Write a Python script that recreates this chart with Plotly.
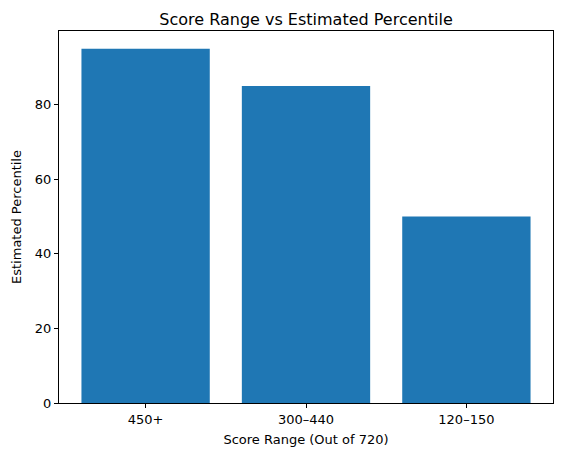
import plotly.graph_objects as go

# score ranges and their estimated percentiles
score_ranges = ["450+", "300–440", "120–150"]
percentiles = [95, 85, 50]
y_ticks = [0, 20, 40, 60, 80]

fig = go.Figure()
fig.add_trace(go.Bar(
    x=score_ranges,
    y=percentiles,
    width=0.8,
    marker_color="#1f77b4",
    marker_line_width=0,
))

axis_style = dict(
    showline=True, linecolor="black", linewidth=1, mirror=True,
    ticks="outside", ticklen=4, tickcolor="black", tickwidth=1,
    showgrid=False, zeroline=False,
    tickfont=dict(family="DejaVu Sans", size=13, color="black"),
)

# page body adds an 8px offset, so the figure is a bit smaller than the window
fig.update_layout(
    width=554, height=447,
    margin=dict(l=49, r=8, t=23, b=52),
    paper_bgcolor="white", plot_bgcolor="white",
    showlegend=False,
    font=dict(family="DejaVu Sans", color="black"),
    title=dict(text="Score Range vs Estimated Percentile",
               xref="paper", x=0.5, xanchor="center", y=0.974, yanchor="middle",
               font=dict(size=16, color="black")),
    xaxis=dict(axis_style, range=[-0.54, 2.54],
               title=dict(text="Score Range (Out of 720)", font=dict(size=13), standoff=9)),
    yaxis=dict(axis_style, range=[0, 99.75], tickvals=y_ticks,
               title=dict(text="Estimated Percentile", font=dict(size=13), standoff=10)),
)

fig.write_html("out.html")
